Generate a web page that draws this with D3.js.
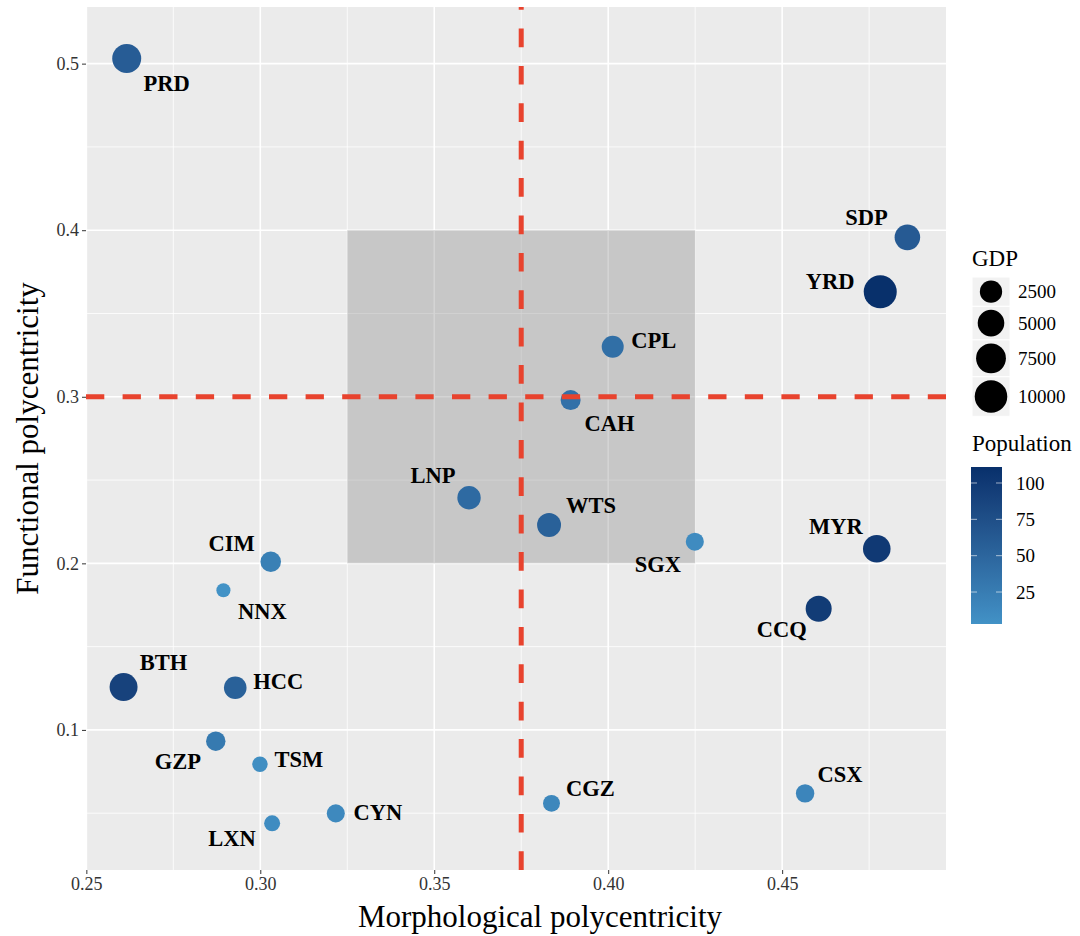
<!DOCTYPE html>
<meta charset="utf-8">
<style>
  body { margin: 0; background: #fff; }
  svg text { font-family: "Liberation Serif", "Times New Roman", serif; }
</style>
<svg width="1080" height="936" font-family="Liberation Serif, Times New Roman, serif"></svg>
<script src="https://d3js.org/d3.v7.min.js"></script>
<script>

    // data
    var regions = ["PRD", "SDP", "YRD", "CPL", "CAH", "LNP", "WTS", "SGX", "MYR", "CCQ",
                   "CSX", "CGZ", "CIM", "NNX", "BTH", "HCC", "GZP", "TSM", "CYN", "LXN"];
    var morph   = [0.2616, 0.4860, 0.4782, 0.4013, 0.3892, 0.3600, 0.3830, 0.4249, 0.4772, 0.4605,
                   0.4566, 0.3837, 0.3030, 0.2894, 0.2607, 0.2928, 0.2872, 0.2999, 0.3217, 0.3034];
    var funct   = [0.5031, 0.3957, 0.3630, 0.3300, 0.2980, 0.2394, 0.2230, 0.2130, 0.2088, 0.1727,
                   0.0619, 0.0559, 0.2010, 0.1838, 0.1257, 0.1253, 0.0932, 0.0794, 0.0499, 0.0439];
    var gdp     = [6800, 4300, 10500, 2350, 1550, 3050, 3350, 950, 5700, 4600,
                   1050, 700, 1750, 330, 6000, 2650, 1350, 450, 950, 530];
    var pop     = [60, 62, 111, 40, 38, 45, 55, 10, 100, 97,
                   16, 14, 22, 3, 90, 55, 28, 7, 12, 9];

    var xTicks = [0.25, 0.30, 0.35, 0.40, 0.45];
    var yTicks = [0.1, 0.2, 0.3, 0.4, 0.5];
    var xMinor = [0.275, 0.325, 0.375, 0.425, 0.475];
    var yMinor = [0.05, 0.15, 0.25, 0.35, 0.45];
    var gdpBreaks = [2500, 5000, 7500, 10000];
    var popBreaks = [25, 50, 75, 100];

    // label placement (pixels from point centre)
    var labelOffset = {
        PRD: [40, 25], SDP: [-41, -20], YRD: [-50, -11], CPL: [41, -7], CAH: [39, 23],
        LNP: [-36, -23], WTS: [42, -20], SGX: [-37, 22], MYR: [-41, -23], CCQ: [-37, 20],
        CSX: [35, -19], CGZ: [39, -15], CIM: [-39, -19], NNX: [39, 21], BTH: [40, -25],
        HCC: [43, -7], GZP: [-38, 20], TSM: [39, -5], CYN: [42, -1], LXN: [-40, 15]
    };

    var serif = "'Liberation Serif', 'Times New Roman', serif";
    var svg = d3.select("svg");

    var panel = { left: 86, right: 946, top: 7, bottom: 870 };

    var x = d3.scaleLinear().domain([0.2499, 0.4971]).range([panel.left, panel.right]);
    var y = d3.scaleLinear().domain([0.0159, 0.534]).range([panel.bottom, panel.top]);

    var size = function(v) {
        return 6.5 + 10.5 * Math.sqrt(Math.max(0, v - 300) / (11500 - 300));
    };
    var color = d3.scaleLinear().domain([3, 111]).range(["#4292c6", "#08306b"])
        .interpolate(d3.interpolateLab);

    var data = regions.map(function(r, i) {
        return { name: r, x: morph[i], y: funct[i], gdp: gdp[i], pop: pop[i] };
    });

    // panel background + grid
    svg.append("rect")
        .attr("x", panel.left).attr("y", panel.top)
        .attr("width", panel.right - panel.left).attr("height", panel.bottom - panel.top)
        .attr("fill", "#ebebeb");

    var grid = svg.append("g");
    grid.selectAll(".xminor").data(xMinor).enter().append("line")
        .attr("x1", x).attr("x2", x).attr("y1", panel.top).attr("y2", panel.bottom)
        .attr("stroke", "#fff").attr("stroke-width", 0.8);
    grid.selectAll(".yminor").data(yMinor).enter().append("line")
        .attr("y1", y).attr("y2", y).attr("x1", panel.left).attr("x2", panel.right)
        .attr("stroke", "#fff").attr("stroke-width", 0.8);
    grid.selectAll(".xmajor").data(xTicks).enter().append("line")
        .attr("x1", x).attr("x2", x).attr("y1", panel.top).attr("y2", panel.bottom)
        .attr("stroke", "#fff").attr("stroke-width", 1.6);
    grid.selectAll(".ymajor").data(yTicks).enter().append("line")
        .attr("y1", y).attr("y2", y).attr("x1", panel.left).attr("x2", panel.right)
        .attr("stroke", "#fff").attr("stroke-width", 1.6);

    // shaded box
    svg.append("rect")
        .attr("x", x(0.325)).attr("y", y(0.4))
        .attr("width", x(0.425) - x(0.325)).attr("height", y(0.2) - y(0.4))
        .attr("fill", "#808080").attr("fill-opacity", 0.34);

    // points
    svg.append("g").selectAll("circle").data(data).enter().append("circle")
        .attr("cx", function(d) { return x(d.x); })
        .attr("cy", function(d) { return y(d.y); })
        .attr("r", function(d) { return size(d.gdp); })
        .attr("fill", function(d) { return color(d.pop); });

    // reference lines
    svg.append("line")
        .attr("x1", panel.left).attr("x2", panel.right)
        .attr("y1", y(0.3)).attr("y2", y(0.3))
        .attr("stroke", "#e8432e").attr("stroke-width", 5)
        .attr("stroke-dasharray", "18.3,18.3");
    svg.append("line")
        .attr("x1", x(0.375)).attr("x2", x(0.375))
        .attr("y1", panel.bottom).attr("y2", panel.top)
        .attr("stroke", "#e8432e").attr("stroke-width", 5)
        .attr("stroke-dasharray", "18.7,18.7");

    // labels
    svg.append("g").selectAll("text").data(data).enter().append("text")
        .attr("x", function(d) { return x(d.x) + labelOffset[d.name][0]; })
        .attr("y", function(d) { return y(d.y) + labelOffset[d.name][1]; })
        .attr("dy", "0.35em")
        .attr("text-anchor", "middle")
        .attr("font-family", serif)
        .attr("font-size", 22.5).attr("font-weight", "bold").attr("fill", "#000")
        .text(function(d) { return d.name; });

    // axes
    var xAxis = d3.axisBottom(x).tickValues(xTicks).tickFormat(d3.format(".2f")).tickSize(4).tickPadding(3);
    var yAxis = d3.axisLeft(y).tickValues(yTicks).tickFormat(d3.format(".1f")).tickSize(4).tickPadding(3);

    var gx = svg.append("g").attr("transform", "translate(0," + panel.bottom + ")").call(xAxis);
    var gy = svg.append("g").attr("transform", "translate(" + panel.left + ",0)").call(yAxis);
    [gx, gy].forEach(function(g) {
        g.attr("font-family", serif);
        g.select(".domain").remove();
        g.selectAll(".tick line").attr("stroke", "#333").attr("stroke-width", 1);
        g.selectAll(".tick text").attr("fill", "#333").attr("font-size", 18)
            .attr("font-family", serif);
    });

    svg.append("text")
        .attr("x", 540).attr("y", 927)
        .attr("text-anchor", "middle").attr("font-size", 31).attr("font-family", serif)
        .text("Morphological polycentricity");
    svg.append("text")
        .attr("transform", "translate(38," + (panel.top + panel.bottom) / 2 + ") rotate(-90)")
        .attr("text-anchor", "middle").attr("font-size", 31).attr("font-family", serif)
        .text("Functional polycentricity");

    // GDP legend
    var lg = svg.append("g").attr("transform", "translate(972,0)").attr("font-family", serif);
    lg.append("text").attr("x", 0).attr("y", 266).attr("font-size", 23)
        .attr("font-family", serif).text("GDP");
    var keyW = 38, ky = 277;
    gdpBreaks.forEach(function(b) {
        var r = size(b), h = 2 * r + 7;
        lg.append("rect").attr("x", 0).attr("y", ky).attr("width", keyW).attr("height", h)
            .attr("fill", "#f2f2f2").attr("stroke", "#fff").attr("stroke-width", 1);
        lg.append("circle").attr("cx", keyW / 2).attr("cy", ky + h / 2).attr("r", r).attr("fill", "#000");
        lg.append("text").attr("x", keyW + 8).attr("y", ky + h / 2).attr("dy", "0.35em")
            .attr("font-size", 19).attr("font-family", serif).text(b);
        ky += h;
    });

    // Population colour bar
    lg.append("text").attr("x", 0).attr("y", 451).attr("font-size", 23)
        .attr("font-family", serif).text("Population");
    var barTop = 467, barBot = 624, barW = 31;
    var pscale = d3.scaleLinear().domain(color.domain()).range([barBot, barTop]);
    var grad = svg.append("defs").append("linearGradient").attr("id", "popgrad")
        .attr("x1", 0).attr("y1", 1).attr("x2", 0).attr("y2", 0);
    d3.range(0, 1.01, 0.1).forEach(function(t) {
        var v = color.domain()[0] + t * (color.domain()[1] - color.domain()[0]);
        grad.append("stop").attr("offset", t).attr("stop-color", color(v));
    });
    lg.append("rect").attr("x", -1).attr("y", barTop).attr("width", barW).attr("height", barBot - barTop)
        .attr("fill", "url(#popgrad)");
    popBreaks.forEach(function(b) {
        var py = pscale(b);
        lg.append("line").attr("x1", -1).attr("x2", 5).attr("y1", py).attr("y2", py)
            .attr("stroke", "#fff").attr("stroke-opacity", 0.6);
        lg.append("line").attr("x1", barW - 7).attr("x2", barW - 1).attr("y1", py).attr("y2", py)
            .attr("stroke", "#fff").attr("stroke-opacity", 0.6);
        lg.append("text").attr("x", barW + 13).attr("y", py).attr("dy", "0.35em")
            .attr("font-size", 19).attr("font-family", serif).text(b);
    });

</script>
